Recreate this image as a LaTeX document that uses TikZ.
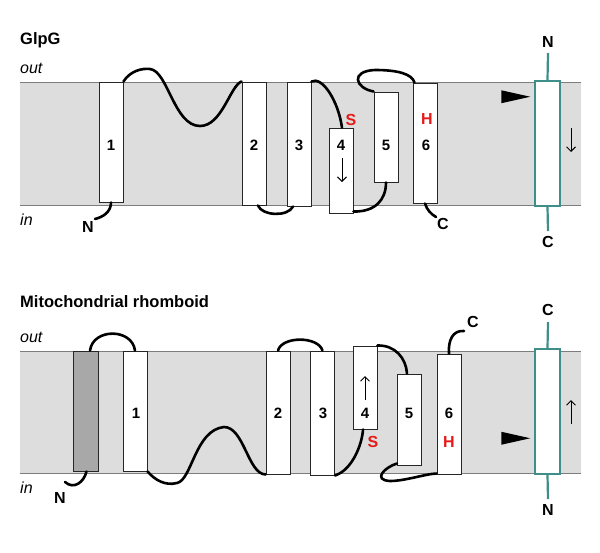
\documentclass[tikz,border=0pt]{standalone}
\usepackage{fontspec}
\setmainfont{Liberation Sans}
\usetikzlibrary{calc,arrows.meta}
\definecolor{bandgray}{RGB}{221,221,221}
\definecolor{bandline}{RGB}{125,125,125}
\definecolor{darkhelix}{RGB}{168,168,168}
\definecolor{tealc}{RGB}{62,142,137}
\definecolor{redc}{RGB}{230,25,25}
\tikzset{
  helix/.style={rectangle, draw=black!85, line width=1pt, fill=white, inner sep=0pt, minimum width=24pt},
  subbox/.style={rectangle, draw=tealc, line width=1.5pt, fill=white, inner sep=0pt, minimum width=25pt, minimum height=125pt},
  stalk/.style={draw=tealc, line width=2.2pt},
  looppath/.style={draw=black, line width=2.6pt, line cap=round},
  band/.style={fill=bandgray},
  bandedge/.style={draw=bandline, line width=1pt},
  num/.style={font=\fontsize{15}{15}\selectfont\bfseries, inner sep=0pt},
  term/.style={font=\fontsize{16}{16}\selectfont\bfseries, inner sep=0pt},
  res/.style={font=\fontsize{16}{16}\selectfont\bfseries, text=redc, inner sep=0pt},
  side/.style={font=\fontsize{16}{16}\selectfont\itshape, inner sep=0pt, anchor=west},
  ttl/.style={font=\fontsize{16.5}{16.5}\selectfont\bfseries, inner sep=0pt, anchor=west},
  dirarrow/.style={line width=1pt, -{Straight Barb[length=4.5pt,width=9pt]}},
  cutmark/.style={fill=black}
}
\begin{document}
\begin{tikzpicture}[x=1pt,y=-1pt]
\useasboundingbox (0,0) rectangle (600,552);
% ---------------- GlpG ----------------
\fill[band] (20,82) rectangle (581,205);
\draw[bandedge] (20,82) -- (581,82);
\draw[bandedge] (20,205) -- (581,205);
\node[ttl] (t1) at (20,40) {GlpG};
\node[side] (out1) at (20,68) {out};
\node[side] (in1) at (20,220) {in};

\node[helix, minimum height=120pt] (a1) at (111,142) {};
\node[helix, minimum height=123pt] (a2) at (254,143.5) {};
\node[helix, minimum height=124pt] (a3) at (299,144) {};
\node[helix, minimum height=85pt] (a4) at (341,170.5) {};
\node[helix, minimum height=90pt] (a5) at (386,137) {};
\node[helix, minimum height=120pt] (a6) at (425,143) {};

\node[num] (la1) at (111,145) {1};
\node[num] (la2) at (254,145) {2};
\node[num] (la3) at (299,145) {3};
\node[num] (la4) at (341,145) {4};
\node[num] (la5) at (386,145) {5};
\node[num] (la6) at (426,145) {6};
\node[res] (sa) at (351,120) {S};
\node[res] (ha) at (427,119) {H};
\coordinate (a4top) at (342,158);
\coordinate (a4bot) at (342,182);
\draw[dirarrow] (a4top) -- (a4bot);

% loops
\coordinate (nA) at (95,219);
\draw[looppath] (a1.south) .. controls (111,212) and (103,217) .. (nA);
\node[term] (NA) at (88,227) {N};
\draw[looppath] (a1.north east) .. controls (130,71) and (142,68) .. (150,69)
  .. controls (168,71) and (174,126) .. (200,126)
  .. controls (222,126) and (230,86) .. (a2.north west);
\draw[looppath] ($(a2.south)+(4,0)$) .. controls (262,216) and (288,217) .. ($(a3.south)+(-6,0)$);
\draw[looppath] (a3.north east) .. controls (322,76) and (338,100) .. ($(a4.north)+(1,0)$);
\draw[looppath] ($(a4.south east)+(0,-2)$) .. controls (375,212) and (386,200) .. (a5.south);
\draw[looppath] (a5.north west) .. controls (355,88) and (350,71) .. (375,70)
  .. controls (398,70) and (412,74) .. ($(a6.north west)+(2,0)$);
\coordinate (cA) at (436,217);
\draw[looppath] (a6.south) .. controls (427,210) and (431,214) .. (cA);
\node[term] (CA) at (443,224) {C};

% substrate
\node[subbox] (s1) at (547.5,143.5) {};
\node[term] (sN1) at (548,42) {N};
\node[term] (sC1) at (548,242) {C};
\coordinate (s1n) at (548,53);
\coordinate (s1c) at (548,231);
\draw[stalk] (s1n) -- (s1.north);
\draw[stalk] (s1.south) -- (s1c);
\coordinate (s1top) at (571,128);
\coordinate (s1bot) at (571,152);
\draw[dirarrow] (s1top) -- (s1bot);
\coordinate (tip1) at ($(s1.north west)+(-4,16.5)$);
\fill[cutmark] (tip1) -- ++(-29,-6.5) -- ++(0,13) -- cycle;

% ---------------- Mitochondrial rhomboid ----------------
\fill[band] (20,351) rectangle (581,473);
\draw[bandedge] (20,351) -- (581,351);
\draw[bandedge] (20,473) -- (581,473);
\node[ttl] (t2) at (20,302) {Mitochondrial rhomboid};
\node[side] (out2) at (20,337) {out};
\node[side] (in2) at (20,488) {in};

\node[helix, fill=darkhelix, minimum width=25pt, minimum height=120pt] (bd) at (85.5,411) {};
\node[helix, minimum height=120pt] (b1) at (135,411) {};
\node[helix, minimum height=123pt] (b2) at (278,412.5) {};
\node[helix, minimum height=124pt] (b3) at (322.5,413) {};
\node[helix, minimum height=83pt] (b4) at (365,387.5) {};
\node[helix, minimum height=91pt] (b5) at (409.5,419.5) {};
\node[helix, minimum height=120pt] (b6) at (449,414) {};

\node[num] (lb1) at (136,413) {1};
\node[num] (lb2) at (278,413) {2};
\node[num] (lb3) at (323,413) {3};
\node[num] (lb4) at (365,413) {4};
\node[num] (lb5) at (409,413) {5};
\node[num] (lb6) at (449,413) {6};
\node[res] (sb) at (373,442) {S};
\node[res] (hb) at (449,442) {H};
\coordinate (b4bot) at (365,400);
\coordinate (b4top) at (365,376);
\draw[dirarrow] (b4bot) -- (b4top);

\coordinate (nB) at (65,482);
\draw[looppath] ($(bd.south)+(1,0)$) .. controls (84,482) and (74,490) .. (nB);
\node[term] (NB) at (60,498) {N};
\draw[looppath] ($(bd.north)+(4.5,0)$) .. controls (93,328) and (132,328) .. (b1.north);
\draw[looppath] (b1.south east) .. controls (155,480) and (165,486) .. (177,483)
  .. controls (192,480) and (195,430) .. (224,427)
  .. controls (244,427) and (248,474) .. (b2.south west);
\draw[looppath] (b2.north) .. controls (282,336) and (318,336) .. (b3.north);
\draw[looppath] (b3.south east) .. controls (352,470) and (362,445) .. ($(b4.south)+(-2,0)$);
\draw[looppath] (b4.north east) .. controls (395,345) and (406,358) .. ($(b5.north)+(-2.5,0)$);
\draw[looppath] ($(b5.south west)+(0,-2)$) .. controls (385,467) and (372,480) .. (390,481)
  .. controls (405,481) and (425,474) .. ($(b6.south west)+(0,-1)$);
\coordinate (cB) at (464,331);
\draw[looppath] (b6.north) .. controls (448,340) and (453,330) .. (cB);
\node[term] (CB) at (473,322) {C};

\node[subbox] (s2) at (547.5,411.5) {};
\node[term] (sC2) at (548,310) {C};
\node[term] (sN2) at (548,510) {N};
\coordinate (s2c) at (548,322);
\coordinate (s2n) at (548,499);
\draw[stalk] (s2c) -- (s2.north);
\draw[stalk] (s2.south) -- (s2n);
\coordinate (s2bot) at (571,424);
\coordinate (s2top) at (571,400);
\draw[dirarrow] (s2bot) -- (s2top);
\coordinate (tip2) at ($(s2.north west)+(-4,90)$);
\fill[cutmark] (tip2) -- ++(-29,-6.5) -- ++(0,13) -- cycle;
\end{tikzpicture}
\end{document}
